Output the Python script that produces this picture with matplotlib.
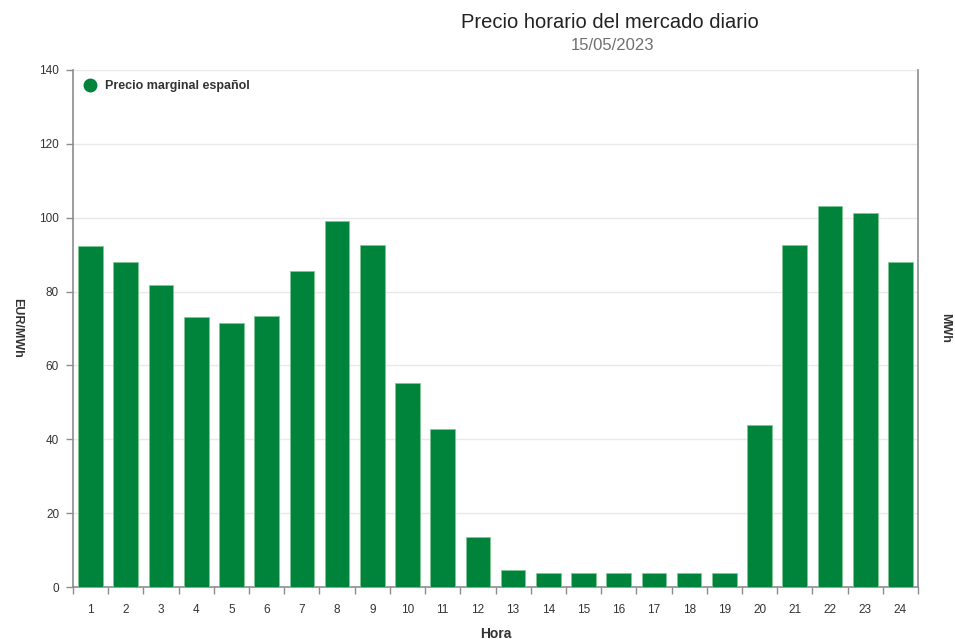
import matplotlib
matplotlib.use("Agg")
import matplotlib.pyplot as plt
from matplotlib.lines import Line2D

plt.rcParams['font.family'] = ['Liberation Sans', 'DejaVu Sans']

# Hourly marginal price (EUR/MWh), Spanish day-ahead market
horas = list(range(1, 25))
precios = [92.3, 88.0, 81.8, 73.1, 71.6, 73.5, 85.5, 99.1, 92.7, 55.3, 42.7, 13.6,
           4.7, 3.9, 3.9, 3.9, 3.9, 3.9, 3.9, 43.8, 92.6, 103.2, 101.2, 88.0]
yticks = [0, 20, 40, 60, 80, 100, 120, 140]

GREEN = '#00833a'
AXIS = '#8c8c8c'
TEXT = '#333333'

fig = plt.figure(figsize=(9.55, 6.39), dpi=100)
ax = fig.add_axes([73 / 955, 52 / 639, 845 / 955, 517 / 639])

ax.bar(horas, precios, width=0.7, color=GREEN, edgecolor='#7fc796',
       linewidth=0.6, zorder=3)

ax.set_xlim(0.5, 24.5)
ax.set_ylim(0, 140)

# y axis
ax.set_yticks(yticks)
ax.set_yticklabels([str(v) for v in yticks])
ax.yaxis.grid(True, color='#e9e9e9', linewidth=1, zorder=0)
ax.tick_params(axis='y', direction='out', length=5, width=1, color=AXIS,
               labelsize=8.5, labelcolor=TEXT, pad=5)

# x axis: labels at bar centres, tick marks between categories
ax.set_xticks(horas)
ax.set_xticklabels([str(h) for h in horas])
ax.tick_params(axis='x', which='major', length=0, labelsize=8.5,
               labelcolor=TEXT, pad=12)
ax.set_xticks([h + 0.5 for h in [0] + horas], minor=True)
ax.tick_params(axis='x', which='minor', direction='out', length=5, width=1,
               color=AXIS)

for side in ('left', 'right', 'bottom'):
    ax.spines[side].set_color(AXIS)
    ax.spines[side].set_linewidth(1.2)
ax.spines['top'].set_visible(False)

ax.set_xlabel('Hora', fontsize=10, fontweight='bold', color=TEXT, labelpad=8)
fig.text(17 / 955, 1 - 328 / 639, 'EUR/MWh', rotation=270, fontsize=9,
         fontweight='bold', color=TEXT, ha='center', va='center')
fig.text(945 / 955, 1 - 328 / 639, 'MWh', rotation=270, fontsize=9,
         fontweight='bold', color=TEXT, ha='center', va='center')

# titles
fig.text(610 / 955, 1 - 22 / 639, 'Precio horario del mercado diario',
         fontsize=14.5, color='#222222', ha='center', va='center')
fig.text(612 / 955, 1 - 46 / 639, '15/05/2023', fontsize=12,
         color='#707070', ha='center', va='center')

# legend
handle = Line2D([], [], marker='o', linestyle='none', markersize=9,
                markerfacecolor=GREEN, markeredgecolor=GREEN)
leg = ax.legend([handle], ['Precio marginal español'], loc='upper left',
                bbox_to_anchor=(-0.004, 1.0), frameon=False, handletextpad=0.45,
                handlelength=1.6, borderaxespad=0.4,
                prop={'weight': 'bold', 'size': 9})
for t in leg.get_texts():
    t.set_color(TEXT)

fig.savefig('out.png', dpi=100, facecolor='white')
